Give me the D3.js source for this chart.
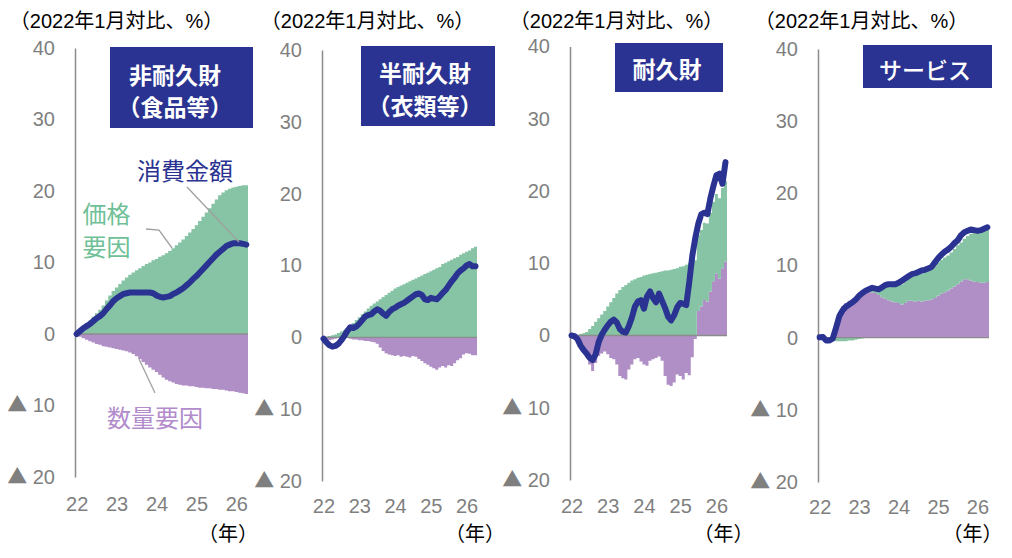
<!DOCTYPE html>
<html>
<head>
<meta charset="utf-8">
<script src="https://cdn.jsdelivr.net/npm/d3@7"></script>
<style>
  body { margin: 0; background: #fff; }
  text { font-family: "Liberation Sans", Arial, "Noto Sans CJK JP", sans-serif; }
  .jp { font-family: "Noto Sans CJK JP", sans-serif; }
</style>
</head>
<body>
<svg id="chart" width="1012" height="558"></svg>
<script>
// 2022年1月～2026年4月の月次（52か月）
const yearLabels = ["22", "23", "24", "25", "26"];
const yTicks = [40, 30, 20, 10, 0, -10, -20];

// 非耐久財（食品等）
const nondurPrice = [0.3,0.6,1.0,1.5,1.9, 2.4,2.9,3.4,4.0,4.7, 5.4,6.0,6.5,7.0,7.5, 7.9,8.3,8.6,8.9,9.2,
  9.5,9.8,10.0,10.3,10.5, 10.8,11.0,11.3,11.6,12.0, 12.4,12.8,13.2,13.7,14.2, 14.7,15.2,15.8,16.4,17.0,
  17.6,18.2,18.8,19.4,19.8, 20.1,20.3,20.5,20.6,20.7, 20.8,20.8];
const nondurQty = [-0.2,-0.4,-0.6,-0.8,-1.0, -1.2,-1.4,-1.5,-1.7,-1.8, -1.9,-2.0,-2.1,-2.2,-2.3, -2.4,-2.6,-2.8,-3.1,-3.5,
  -3.9,-4.3,-4.7,-5.0,-5.3, -5.7,-6.1,-6.4,-6.6,-6.8, -7.0,-7.1,-7.2,-7.2,-7.3, -7.3,-7.4,-7.5,-7.5,-7.6,
  -7.6,-7.7,-7.7,-7.8,-7.8, -7.9,-8.0,-8.0,-8.1,-8.2, -8.3,-8.4];
const nondurAmount = [0,0.4,0.8,1.1,1.4, 1.8,2.2,2.5,2.9,3.5, 4.0,4.6,5.0,5.3,5.6, 5.7,5.8,5.8,5.8,5.8,
  5.8,5.8,5.8,5.7,5.4, 5.2,5.1,5.2,5.3,5.6, 5.8,6.1,6.4,6.8,7.2, 7.7,8.1,8.6,9.1,9.6,
  10.1,10.6,11.1,11.5,11.9, 12.3,12.5,12.7,12.7,12.7, 12.6,12.5];

// 半耐久財（衣類等）
const semiPrice = [0.1,0.1,0.2,0.3,0.4, 0.6,0.8,1.0,1.3,1.6, 2.0,2.4,2.8,3.2,3.6, 4.0,4.4,4.7,5.0,5.3,
  5.6,5.9,6.2,6.5,6.8, 7.0,7.2,7.4,7.6,7.8, 8.0,8.2,8.4,8.6,8.8, 9.0,9.2,9.4,9.6,9.8,
  10.2,10.4,10.6,10.8,11.0, 11.2,11.5,11.7,11.9,12.1, 12.4,12.6];
const semiQty = [-0.3,-0.4,-0.4,-0.3,-0.2, -0.1,0,0,-0.1,-0.2, -0.3,-0.3,-0.4,-0.4,-0.5, -0.5,-0.6,-0.7,-0.9,-1.4,
  -1.9,-2.2,-2.4,-2.5,-2.6, -2.5,-2.7,-2.6,-2.7,-2.8, -2.6,-2.7,-3.0,-3.3,-3.6, -3.8,-4.1,-4.3,-4.5,-4.2,
  -4.0,-4.2,-3.9,-4.0,-3.6, -3.2,-2.9,-2.4,-2.2,-2.3, -2.5,-2.5];
const semiAmount = [-0.2,-0.7,-1.1,-1.3,-1.2, -0.9,-0.4,0.2,0.9,1.4, 1.3,1.5,1.9,2.4,2.9, 3.1,3.2,3.6,3.9,3.7,
  3.3,3.0,3.5,3.9,4.1, 4.4,4.6,4.8,5.1,5.4, 5.7,6.0,6.1,5.9,5.3, 5.2,5.5,5.4,5.3,5.7,
  6.2,6.6,7.2,7.8,8.3, 8.9,9.3,9.6,10.0,10.2, 9.9,9.9];

// 耐久財
const durPrice = [0.1,0.1,0.1,0.2,0.3, 0.5,0.9,1.3,1.9,2.4, 2.9,3.4,4.0,4.6,5.2, 5.8,6.3,6.7,7.0,7.3,
  7.6,7.8,8.0,8.1,8.3, 8.4,8.5,8.6,8.7,8.8, 8.9,9.0,9.0,9.1,9.2, 9.3,9.5,9.6,9.8,10.0,
  10.2,10.4,10.5,10.6,10.7, 10.8,10.9,11.0,11.0,11.1, 11.1,11.2];
const durQty = [-0.3,-0.4,-0.5,-1.0,-2.4, -3.0,-4.0,-4.9,-3.8,-2.8, -2.5,-2.2,-2.6,-3.1,-3.3, -4.0,-5.6,-5.9,-6.1,-4.7,
  -4.0,-3.3,-3.1,-3.6,-4.0, -4.2,-3.5,-3.3,-3.1,-2.9, -3.5,-5.6,-6.8,-7.0,-6.5, -5.4,-5.6,-6.1,-5.2,-5.5,
  -3.0,-0.5,3.4,4.0,4.9, 4.7,6.1,7.5,8.6,7.9, 9.3,10.2];
const durAmount = [0,-0.1,-0.5,-1.4,-2.0, -2.5,-3.1,-3.4,-2.6,-0.9, 0.1,0.8,1.4,1.9,2.2, 1.8,0.9,0.5,0.4,1.3,
  2.5,4.0,4.7,4.9,3.7, 5.4,6.1,5.2,4.6,5.8, 4.8,3.8,2.6,2.1,2.8, 3.9,4.5,4.4,4.2,7.4,
  11.0,13.5,15.5,16.8,17.0, 16.8,19.0,20.7,22.2,22.4, 21.0,24.0];

// サービス
const svcPrice = [-0.1,-0.2,-0.3,-0.4,-0.4, -0.5,-0.5,-0.5,-0.5,-0.4, -0.4,-0.3,-0.2,-0.1,0.1, 0.3,0.5,0.7,0.9,1.2,
  1.5,1.8,2.1,2.3,2.5, 2.8,3.0,3.1,3.3,3.5, 3.7,3.9,4.0,4.1,4.2, 4.4,4.6,4.7,4.8,4.9,
  5.0,5.2,5.4,5.4,5.6, 6.0,6.5,6.9,7.0,7.1, 7.2,7.3];
const svcQty = [0,0,0,0,0.1, 1.0,3.2,4.4,4.8,5.1, 5.3,5.5,5.8,6.0,6.2, 6.3,6.3,6.2,5.9,5.6,
  5.4,5.2,5.0,4.9,4.8, 4.6,4.8,5.1,5.1,5.0, 5.1,5.0,5.1,5.2,5.3, 5.5,5.8,6.1,6.3,6.5,
  6.8,7.1,7.4,7.8,8.1, 8.1,7.9,7.8,7.7,7.6, 7.6,7.7];
const svcAmount = [0.05,0.1,-0.4,-0.4,-0.1, 1.4,3.0,3.8,4.3,4.6, 4.9,5.3,5.8,6.2,6.5, 6.7,6.9,6.8,6.7,7.0,
  7.3,7.4,7.4,7.4,7.6, 7.9,8.2,8.5,8.8,8.9, 9.1,9.3,9.4,9.6,9.8, 10.4,11.0,11.5,11.9,12.2,
  12.6,13.1,13.5,14.2,14.6, 14.8,15.0,14.9,14.8,14.9, 15.1,15.3];

const COL_PRICE = "#86c4a5";
const COL_QTY = "#b08fc7";
const COL_LINE = "#2a3391";
const COL_AXIS = "#8c8c8c";
const COL_TICK = "#7f7f7f";

const panels = [
  { price: nondurPrice, qty: nondurQty, amount: nondurAmount,
    x0: 75, x1: 248, yTop: 48, yBot: 477, titleX: 116.5, yearX: 228, xLabY: 497,
    box: { x: 110, y: 47, w: 143, h: 81 }, boxX: 175, boxLines: ["非耐久財", "（食品等）"], boxY: [84, 116], bold: true },
  { price: semiPrice, qty: semiQty, amount: semiAmount,
    x0: 322, x1: 477, yTop: 50, yBot: 481, titleX: 367.5, yearX: 475, xLabY: 499,
    box: { x: 361, y: 46, w: 134, h: 80 }, boxX: 425, boxLines: ["半耐久財", "（衣類等）"], boxY: [81.5, 115], bold: true },
  { price: durPrice, qty: durQty, amount: durAmount,
    x0: 570, x1: 727, yTop: 46.5, yBot: 480, titleX: 616.5, yearX: 723.5, xLabY: 499,
    box: { x: 615, y: 43, w: 108, h: 49 }, boxX: 667, boxLines: ["耐久財"], boxY: [78], bold: true },
  { price: svcPrice, qty: svcQty, amount: svcAmount,
    x0: 818, x1: 989, yTop: 49, yBot: 482, titleX: 861.5, yearX: 972.5, xLabY: 500,
    box: { x: 863, y: 45, w: 129, h: 43 }, boxX: 925, boxLines: ["サービス"], boxY: [79], bold: false }
];

const svg = d3.select("#chart");

panels.forEach(p => {
  const n = p.price.length;
  const x = d3.scaleLinear().domain([0, n]).range([p.x0, p.x1]);
  const y = d3.scaleLinear().domain([-20, 40]).range([p.yBot, p.yTop]);
  const g = svg.append("g");

  // 積み上げ（数量要因→価格要因）
  const rows = p.price.map((v, i) => ({ i: i, qty: p.qty[i], price: v }));
  const stack = d3.stack().keys(["qty", "price"]).offset(d3.stackOffsetDiverging);
  const series = stack(rows);
  const area = d3.area()
    .curve(d3.curveStepAfter)
    .x((d, k) => x(k))
    .y0(d => y(d[0]))
    .y1(d => y(d[1]));

  g.selectAll("path.area")
    .data(series)
    .enter()
    .append("path")
    .attr("class", "area")
    .attr("fill", d => d.key === "qty" ? COL_QTY : COL_PRICE)
    .attr("d", s => area(s.concat([s[s.length - 1]])));

  // 0の線
  g.append("line")
    .attr("x1", p.x0).attr("x2", p.x1)
    .attr("y1", y(0)).attr("y2", y(0))
    .attr("stroke", COL_AXIS).attr("stroke-width", 1.3);

  // 縦軸（マイナスは▲表記）
  const yAxis = d3.axisLeft(y).tickValues(yTicks).tickSize(0).tickSizeOuter(0)
    .tickPadding(20).tickFormat(v => String(Math.abs(v)));
  const ya = g.append("g").attr("transform", "translate(" + p.x0 + ",0)").call(yAxis);
  ya.select(".domain").attr("stroke", COL_AXIS).attr("stroke-width", 1.5);
  ya.selectAll("text").attr("fill", COL_TICK).style("font-size", "20px")
    .style("font-family", "'Liberation Sans', Arial, sans-serif");
  ya.selectAll(".tick text")
    .filter(v => v < 0)
    .each(function(v) {
      const t = d3.select(this).text("");
      t.append("tspan").style("font-family", "'Noto Sans CJK JP', sans-serif").text("▲");
      t.append("tspan").text(" " + Math.abs(v));
    });

  // 横軸ラベル
  const xAxis = d3.axisBottom(x).tickValues(yearLabels.map((t, k) => k * 12 + 0.5))
    .tickSize(0).tickPadding(0).tickFormat((d, k) => yearLabels[k]);
  const xa = g.append("g").attr("transform", "translate(0," + p.xLabY + ")").call(xAxis);
  xa.select(".domain").remove();
  xa.selectAll("text").attr("fill", COL_TICK).style("font-size", "20px")
    .style("font-family", "'Liberation Sans', Arial, sans-serif");

  // 消費金額
  const line = d3.line().x((d, i) => x(i + 0.5)).y(d => y(d));
  g.append("path")
    .datum(p.amount)
    .attr("fill", "none")
    .attr("stroke", COL_LINE)
    .attr("stroke-width", 6)
    .attr("stroke-linejoin", "round")
    .attr("stroke-linecap", "round")
    .attr("d", line);

  // 単位
  g.append("text")
    .attr("x", p.titleX).attr("y", 28)
    .attr("text-anchor", "middle")
    .style("font-size", "20px")
    .style("font-family", "'Liberation Sans', 'Noto Sans CJK JP', sans-serif")
    .text("（2022年1月対比、%）");

  g.append("text").attr("class", "jp")
    .attr("x", p.yearX).attr("y", 541)
    .attr("text-anchor", "middle")
    .style("font-size", "20px")
    .text("（年）");

  // 見出し
  g.append("rect")
    .attr("x", p.box.x).attr("y", p.box.y)
    .attr("width", p.box.w).attr("height", p.box.h)
    .attr("fill", COL_LINE);
  p.boxLines.forEach((t, k) => {
    g.append("text").attr("class", "jp")
      .attr("x", p.boxX).attr("y", p.boxY[k])
      .attr("text-anchor", "middle")
      .attr("fill", "#fff")
      .style("font-size", "23px")
      .style("font-weight", p.bold ? 700 : 500)
      .text(t);
  });
});

// 注記（非耐久財のパネル）
const notes = svg.append("g");
const leaders = [
  [[187, 187], [239, 242]],
  [[146, 229], [159, 230], [172, 248]],
  [[139, 359], [155, 393]]
];
notes.selectAll("path.leader")
  .data(leaders)
  .enter()
  .append("path")
  .attr("class", "leader")
  .attr("fill", "none")
  .attr("stroke", "#a0a0a0")
  .attr("stroke-width", 1.3)
  .attr("d", d3.line());

const labels = [
  { t: "消費金額", x: 185, y: 180, c: COL_LINE },
  { t: "価格", x: 106.5, y: 223, c: "#6fbf97" },
  { t: "要因", x: 106.5, y: 256, c: "#6fbf97" },
  { t: "数量要因", x: 155, y: 427, c: "#b28ccb" }
];
notes.selectAll("text.note")
  .data(labels)
  .enter()
  .append("text")
  .attr("class", "jp note")
  .attr("x", d => d.x).attr("y", d => d.y)
  .attr("text-anchor", "middle")
  .attr("fill", d => d.c)
  .style("font-size", "24px")
  .text(d => d.t);
</script>
</body>
</html>
